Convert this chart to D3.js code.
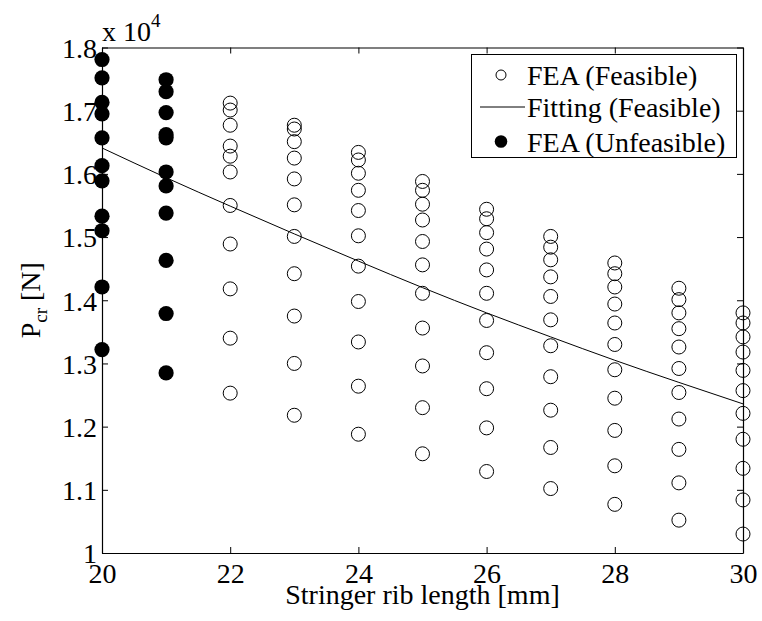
<!DOCTYPE html>
<meta charset="utf-8">
<title>Pcr vs stringer rib length</title>
<script src="https://cdn.jsdelivr.net/npm/d3@7"></script>
<style>
  body { margin: 0; background: #fff; }
  svg text { font-family: "Liberation Serif", "Times New Roman", Times, serif; fill: #000; }
</style>
<div id="chart"></div>
<script>

// rib lengths [mm]
var ribLength = [20, 21, 22, 23, 24, 25, 26, 27, 28, 29, 30];

// FEA results [N], one column of values for each rib length
var feaUnfeasible = {
  20: [17810, 17520, 17130, 16950, 16570, 16130, 15890, 15330, 15100, 14210, 13220],
  21: [17490, 17300, 16970, 16620, 16570, 16030, 15810, 15380, 14630, 13790, 12850]
};
var feaFeasible = {
  22: [17120, 17010, 16770, 16440, 16280, 16030, 15500, 14890, 14180, 13400, 12530],
  23: [16770, 16710, 16510, 16250, 15920, 15510, 15010, 14420, 13750, 13000, 12180],
  24: [16340, 16220, 16010, 15740, 15420, 15020, 14540, 13980, 13340, 12640, 11880],
  25: [15880, 15740, 15520, 15270, 14930, 14560, 14110, 13560, 12960, 12300, 11570],
  26: [15440, 15290, 15070, 14810, 14480, 14110, 13680, 13170, 12600, 11980, 11290],
  27: [15010, 14840, 14640, 14370, 14060, 13690, 13280, 12790, 12260, 11670, 11020],
  28: [14590, 14420, 14210, 13940, 13640, 13300, 12900, 12450, 11940, 11380, 10770],
  29: [14190, 14010, 13800, 13550, 13260, 12920, 12540, 12120, 11640, 11110, 10520],
  30: [13800, 13640, 13420, 13180, 12890, 12570, 12210, 11800, 11340, 10840, 10300]
};
// fitting curve (feasible), value at each rib length
var fitValues = [16410, 15940, 15490, 15050, 14620, 14200, 13800, 13420, 13050, 12700, 12360];

var xTicks = [20, 22, 24, 26, 28, 30];
var yTicks = [10000, 11000, 12000, 13000, 14000, 15000, 16000, 17000, 18000];

var margin = {top: 47.5, right: 19, bottom: 68, left: 102},
    W = 762, H = 621,
    width = W - margin.left - margin.right,
    height = H - margin.top - margin.bottom;

var FONT = "'Liberation Serif', 'Times New Roman', Times, serif";

var svg = d3.select("#chart").append("svg")
    .attr("width", W)
    .attr("height", H)
    .attr("font-family", FONT);

var g = svg.append("g")
    .attr("transform", "translate(" + margin.left + "," + margin.top + ")");

var x = d3.scaleLinear().domain([20, 30]).range([0, width]);
var y = d3.scaleLinear().domain([10000, 18000]).range([height, 0]);

// flatten columns to points
function toPoints(obj) {
  var pts = [];
  Object.keys(obj).forEach(function(k) {
    obj[k].forEach(function(v) { pts.push({x: +k, y: v}); });
  });
  return pts;
}

// open circles
g.selectAll(".feas")
  .data(toPoints(feaFeasible))
  .enter().append("circle")
    .attr("cx", function(d) { return x(d.x); })
    .attr("cy", function(d) { return y(d.y); })
    .attr("r", 7)
    .attr("fill", "none")
    .attr("stroke", "#000")
    .attr("stroke-width", 1);

// fitting line
var line = d3.line()
  .x(function(d, i) { return x(ribLength[i]); })
  .y(function(d) { return y(d); })
  .curve(d3.curveNatural);

g.append("path")
  .datum(fitValues)
  .attr("d", line)
  .attr("fill", "none")
  .attr("stroke", "#000")
  .attr("stroke-width", 1);

// filled circles
g.selectAll(".unfeas")
  .data(toPoints(feaUnfeasible))
  .enter().append("circle")
    .attr("cx", function(d) { return x(d.x); })
    .attr("cy", function(d) { return y(d.y); })
    .attr("r", 7.6)
    .attr("fill", "#000");

// axes, matlab style box with inward ticks
var fmt = function(d) { return String(+(d / 10000).toFixed(1)); };

var xb = g.append("g").attr("transform", "translate(0," + height + ")")
  .call(d3.axisBottom(x).tickValues(xTicks).tickSizeInner(-6).tickSizeOuter(0));
var xt = g.append("g")
  .call(d3.axisTop(x).tickValues(xTicks).tickSizeInner(-6).tickSizeOuter(0).tickFormat(""));
var yl = g.append("g")
  .call(d3.axisLeft(y).tickValues(yTicks).tickSizeInner(-6).tickSizeOuter(0).tickFormat(fmt));
var yr = g.append("g").attr("transform", "translate(" + width + ",0)")
  .call(d3.axisRight(y).tickValues(yTicks).tickSizeInner(-6).tickSizeOuter(0).tickFormat(""));

[xb, xt, yl, yr].forEach(function(a) {
  a.attr("font-family", FONT).attr("font-size", 28);
  a.select(".domain").attr("stroke", "#000").attr("stroke-width", 1.2);
  a.selectAll(".tick line").attr("stroke", "#000");
  a.selectAll("text").attr("fill", "#000");
});
xb.selectAll("text").attr("y", 10).attr("dy", "0.71em");
yl.selectAll("text").attr("x", -5).attr("dy", "0.35em");

// x 10^4 exponent label
var ex = svg.append("text")
  .attr("x", 102).attr("y", 40.5)
  .attr("font-size", 28);
ex.append("tspan").text("x 10");
ex.append("tspan").attr("font-size", 19).attr("dy", -14).text("4");

// axis labels
svg.append("text")
  .attr("x", margin.left + width / 2).attr("y", 604)
  .attr("text-anchor", "middle")
  .attr("font-size", 28)
  .text("Stringer rib length [mm]");

var yt = svg.append("text")
  .attr("transform", "translate(40," + (margin.top + height / 2) + ") rotate(-90)")
  .attr("text-anchor", "middle")
  .attr("font-size", 28);
yt.append("tspan").text("P");
yt.append("tspan").attr("font-size", 19).attr("dy", 7).text("cr");
yt.append("tspan").attr("dy", -7).text(" [N]");

// legend
var leg = svg.append("g");
leg.append("rect")
  .attr("x", 471.5).attr("y", 54.5).attr("width", 265).attr("height", 103)
  .attr("fill", "#fff").attr("stroke", "#000").attr("stroke-width", 1);
var items = ["FEA (Feasible)", "Fitting (Feasible)", "FEA (Unfeasible)"];
var rowY = [75, 107, 141.5];
items.forEach(function(t, i) {
  leg.append("text").attr("x", 527).attr("y", rowY[i] + 10).attr("font-size", 28).text(t);
});
leg.append("circle").attr("cx", 501).attr("cy", rowY[0]).attr("r", 5)
  .attr("fill", "none").attr("stroke", "#000");
leg.append("line").attr("x1", 480).attr("x2", 525).attr("y1", rowY[1]).attr("y2", rowY[1])
  .attr("stroke", "#000");
leg.append("circle").attr("cx", 501).attr("cy", rowY[2]).attr("r", 6.3).attr("fill", "#000");

</script>
